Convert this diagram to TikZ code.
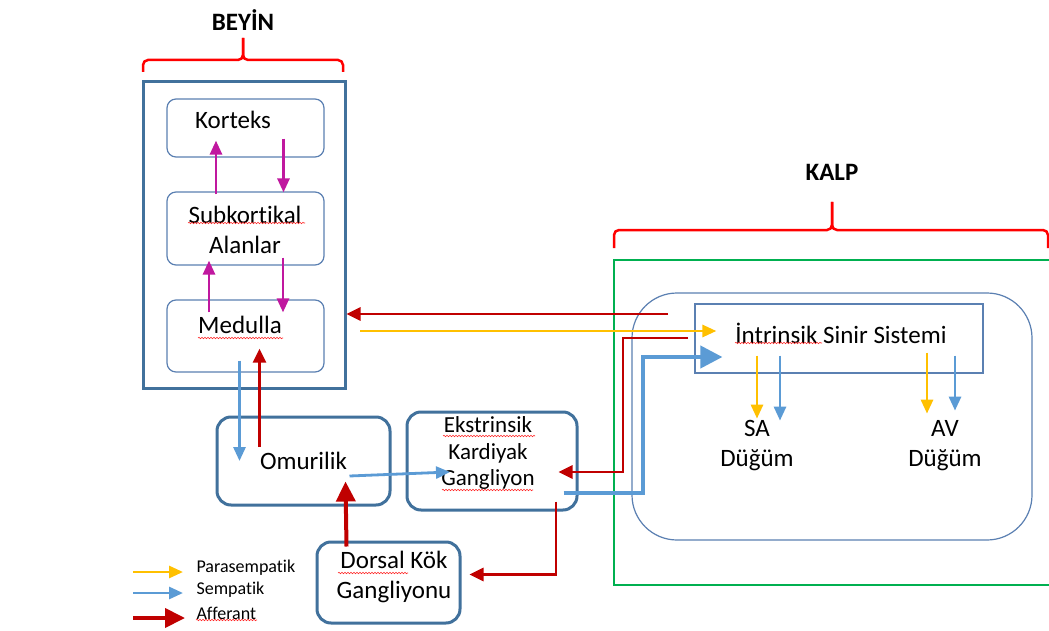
\documentclass[tikz,border=0pt]{standalone}
\usepackage{fontspec}
\setmainfont{Carlito}[Ligatures=NoCommon]
\usetikzlibrary{arrows.meta,calc,decorations.pathmorphing}
\definecolor{boxblue}{HTML}{41719C}
\definecolor{thinblue}{HTML}{5B80B2}
\definecolor{sempblue}{HTML}{5B9BD5}
\definecolor{paraorange}{HTML}{FFC000}
\definecolor{affred}{HTML}{C00000}
\definecolor{magarrow}{HTML}{C0189F}
\definecolor{kalpgreen}{HTML}{00B050}
\begin{document}
\begin{tikzpicture}[x=1pt,y=-1pt,font=\fontsize{25}{30}\selectfont,
  bigbox/.style={draw=boxblue,line width=3pt,rounded corners=14pt},
  inbox/.style={draw=thinblue,line width=1.2pt,rounded corners=9pt},
  para/.style={paraorange,line width=2.8pt,-{Triangle[length=14pt,width=12pt]}},
  semp/.style={sempblue,line width=2.8pt,-{Triangle[length=14pt,width=12pt]}},
  sempthick/.style={sempblue,line width=4pt,-{Triangle[length=22pt,width=22pt]}},
  aff/.style={affred,line width=2.8pt,-{Triangle[length=14pt,width=13pt]}},
  affthick/.style={affred,line width=4pt,-{Triangle[length=20pt,width=19pt]}},
  mag/.style={magarrow,line width=2.8pt,-{Triangle[length=14pt,width=12pt]}},
  brace/.style={red,line width=2.5pt,rounded corners=5pt},
  squig/.style={red!85,line width=0.6pt,decorate,decoration={snake,amplitude=0.7pt,segment length=3pt}},
  legend/.style={anchor=west,font=\fontsize{18}{20}\selectfont}]
\fill[white] (0,0) rectangle (1049,631);
\useasboundingbox (0,0) rectangle (1049,631);

% brain
\node[font=\fontsize{25}{30}\selectfont\bfseries] (beyintitle) at (243,20) {BEYİN};
\draw[brace] (143,72) -- (143,60) -- (243,60) -- (243,38);
\draw[brace] (343,72) -- (343,60) -- (243,60) -- (243,38);
\node[draw=boxblue,line width=3pt,minimum width=202,minimum height=306] (beyin) at (244,235) {};
\node[inbox,minimum width=157,minimum height=58] (korteks) at (245.5,128) {};
\node (korteks-t) at (233,120) {Korteks};
\node[inbox,minimum width=157,minimum height=73] (subk) at (245.5,228.5) {};
\node[align=center] (subk-t) at (245,230) {Subkortikal\\Alanlar};
\node[inbox,minimum width=157,minimum height=72] (medulla) at (245.5,336) {};
\node (medulla-t) at (240,325) {Medulla};

\draw[mag] ($(subk.north)+(-29.5,3)$) -- ($(korteks.south)+(-29.5,-17)$);
\draw[mag] ($(korteks.south)+(38,-19)$) -- ($(subk.north)+(38,1)$);
\draw[mag] ($(medulla.north)+(-36.5,13)$) -- ($(subk.south)+(-36.5,-5)$);
\draw[mag] ($(subk.south)+(37.5,-8)$) -- ($(medulla.north)+(37.5,13)$);

% heart
\node[font=\fontsize{25}{30}\selectfont\bfseries] (kalptitle) at (832,172) {KALP};
\draw[brace] (614,248) -- (614,230) -- (832,230) -- (832,202);
\draw[brace] (1048,248) -- (1048,230) -- (832,230) -- (832,202);
\draw[kalpgreen,line width=2.5pt] (614,260) rectangle (1060,585);
\node[draw=thinblue,line width=1.2pt,rounded corners=45pt,minimum width=400,minimum height=247] (kalp) at (832,416.5) {};
\node[draw=thinblue,line width=1.2pt,minimum width=288,minimum height=69] (intr) at (839,338.5) {};
\node (intr-t) at (841,333) {İntrinsik Sinir Sistemi};
\node[align=center] (sa) at (757,446) {SA\\Düğüm};
\node[align=center] (av) at (945,446) {AV\\Düğüm};

\draw[para] ($(sa |- intr.south)+(0,-18)$) -- ($(sa |- intr.south)+(0,45)$);
\draw[semp] ($(sa |- intr.south)+(23,-18)$) -- ($(sa |- intr.south)+(23,47)$);
\draw[para] ($(av |- intr.south)+(-18,-21)$) -- ($(av |- intr.south)+(-18,40)$);
\draw[semp] ($(av |- intr.south)+(10,-18)$) -- ($(av |- intr.south)+(10,37)$);

% spinal cord and ganglia
\node[bigbox,minimum width=173,minimum height=88] (omur) at (303.5,461) {Omurilik};
\node[bigbox,minimum width=170,minimum height=98] (ekst) at (492,461) {};
\node[align=center,font=\fontsize{23}{26.5}\selectfont] (ekst-t) at (488,453) {Ekstrinsik\\Kardiyak\\Gangliyon};
\node[bigbox,minimum width=143,minimum height=81] (dorsal) at (388.5,582.5) {};
\node[align=center] (dorsal-t) at (394,577) {Dorsal Kök\\Gangliyonu};

% connectors
\coordinate (afin) at (668,314);
\draw[aff] (afin) -- (beyin.east |- afin);
\coordinate (parain) at (360,331);
\draw[para] (parain) -- ($(intr.west |- parain)+(22,0)$);
\coordinate (afout) at (688,338);
\coordinate (afbend) at (623,472);
\draw[aff] (afout) -| (afbend) -- ($(ekst.east |- afbend)+(-20,0)$);
\coordinate (sbend) at (643,357);
\draw[sempthick] ($(ekst.east)+(-15,32)$) -| (sbend) -- ($(intr.west |- sbend)+(28,0)$);
\draw[aff] ($(ekst.south)+(64,-10)$) |- ($(dorsal.east)+(8,-8)$);

\coordinate (msemp) at ($(medulla.south)+(-6,-12)$);
\draw[semp] (msemp) -- (msemp |- omur.center);
\coordinate (maff) at ($(medulla.south)+(14,-24)$);
\draw[aff] ($(maff |- omur.center)+(0,-14)$) -- (maff);
\draw[semp] ($(omur.center)+(46,15)$) -- ($(ekst.center)+(-42,11)$);
\draw[affthick] ($(dorsal.north)+(-42,6)$) -- ($(omur.south)+(42,-25)$);

% legend
\node[legend] (lgpara) at (193,568) {Parasempatik};
\node[legend] (lgsemp) at (193,590) {Sempatik};
\node[legend] (lgaff) at (193,613) {Afferant};
\draw[para] ($(lgpara.west)+(-60,4)$) -- ($(lgpara.west)+(-10,4)$);
\draw[semp] ($(lgsemp.west)+(-60,3)$) -- ($(lgsemp.west)+(-10,3)$);
\draw[affthick] ($(lgaff.west)+(-60,5)$) -- ($(lgaff.west)+(-8,5)$);

% spell-check marks
\draw[squig] (188,223) -- (305,223);
\draw[squig] (198,338) -- (283,338);
\draw[squig] (735,343) -- (822,343);
\draw[squig] (443,436) -- (535,436);
\draw[squig] (442,490) -- (533,490);
\draw[squig] (338,573) -- (408,573);
\draw[squig] (196,620) -- (257,620);
\end{tikzpicture}
\end{document}
